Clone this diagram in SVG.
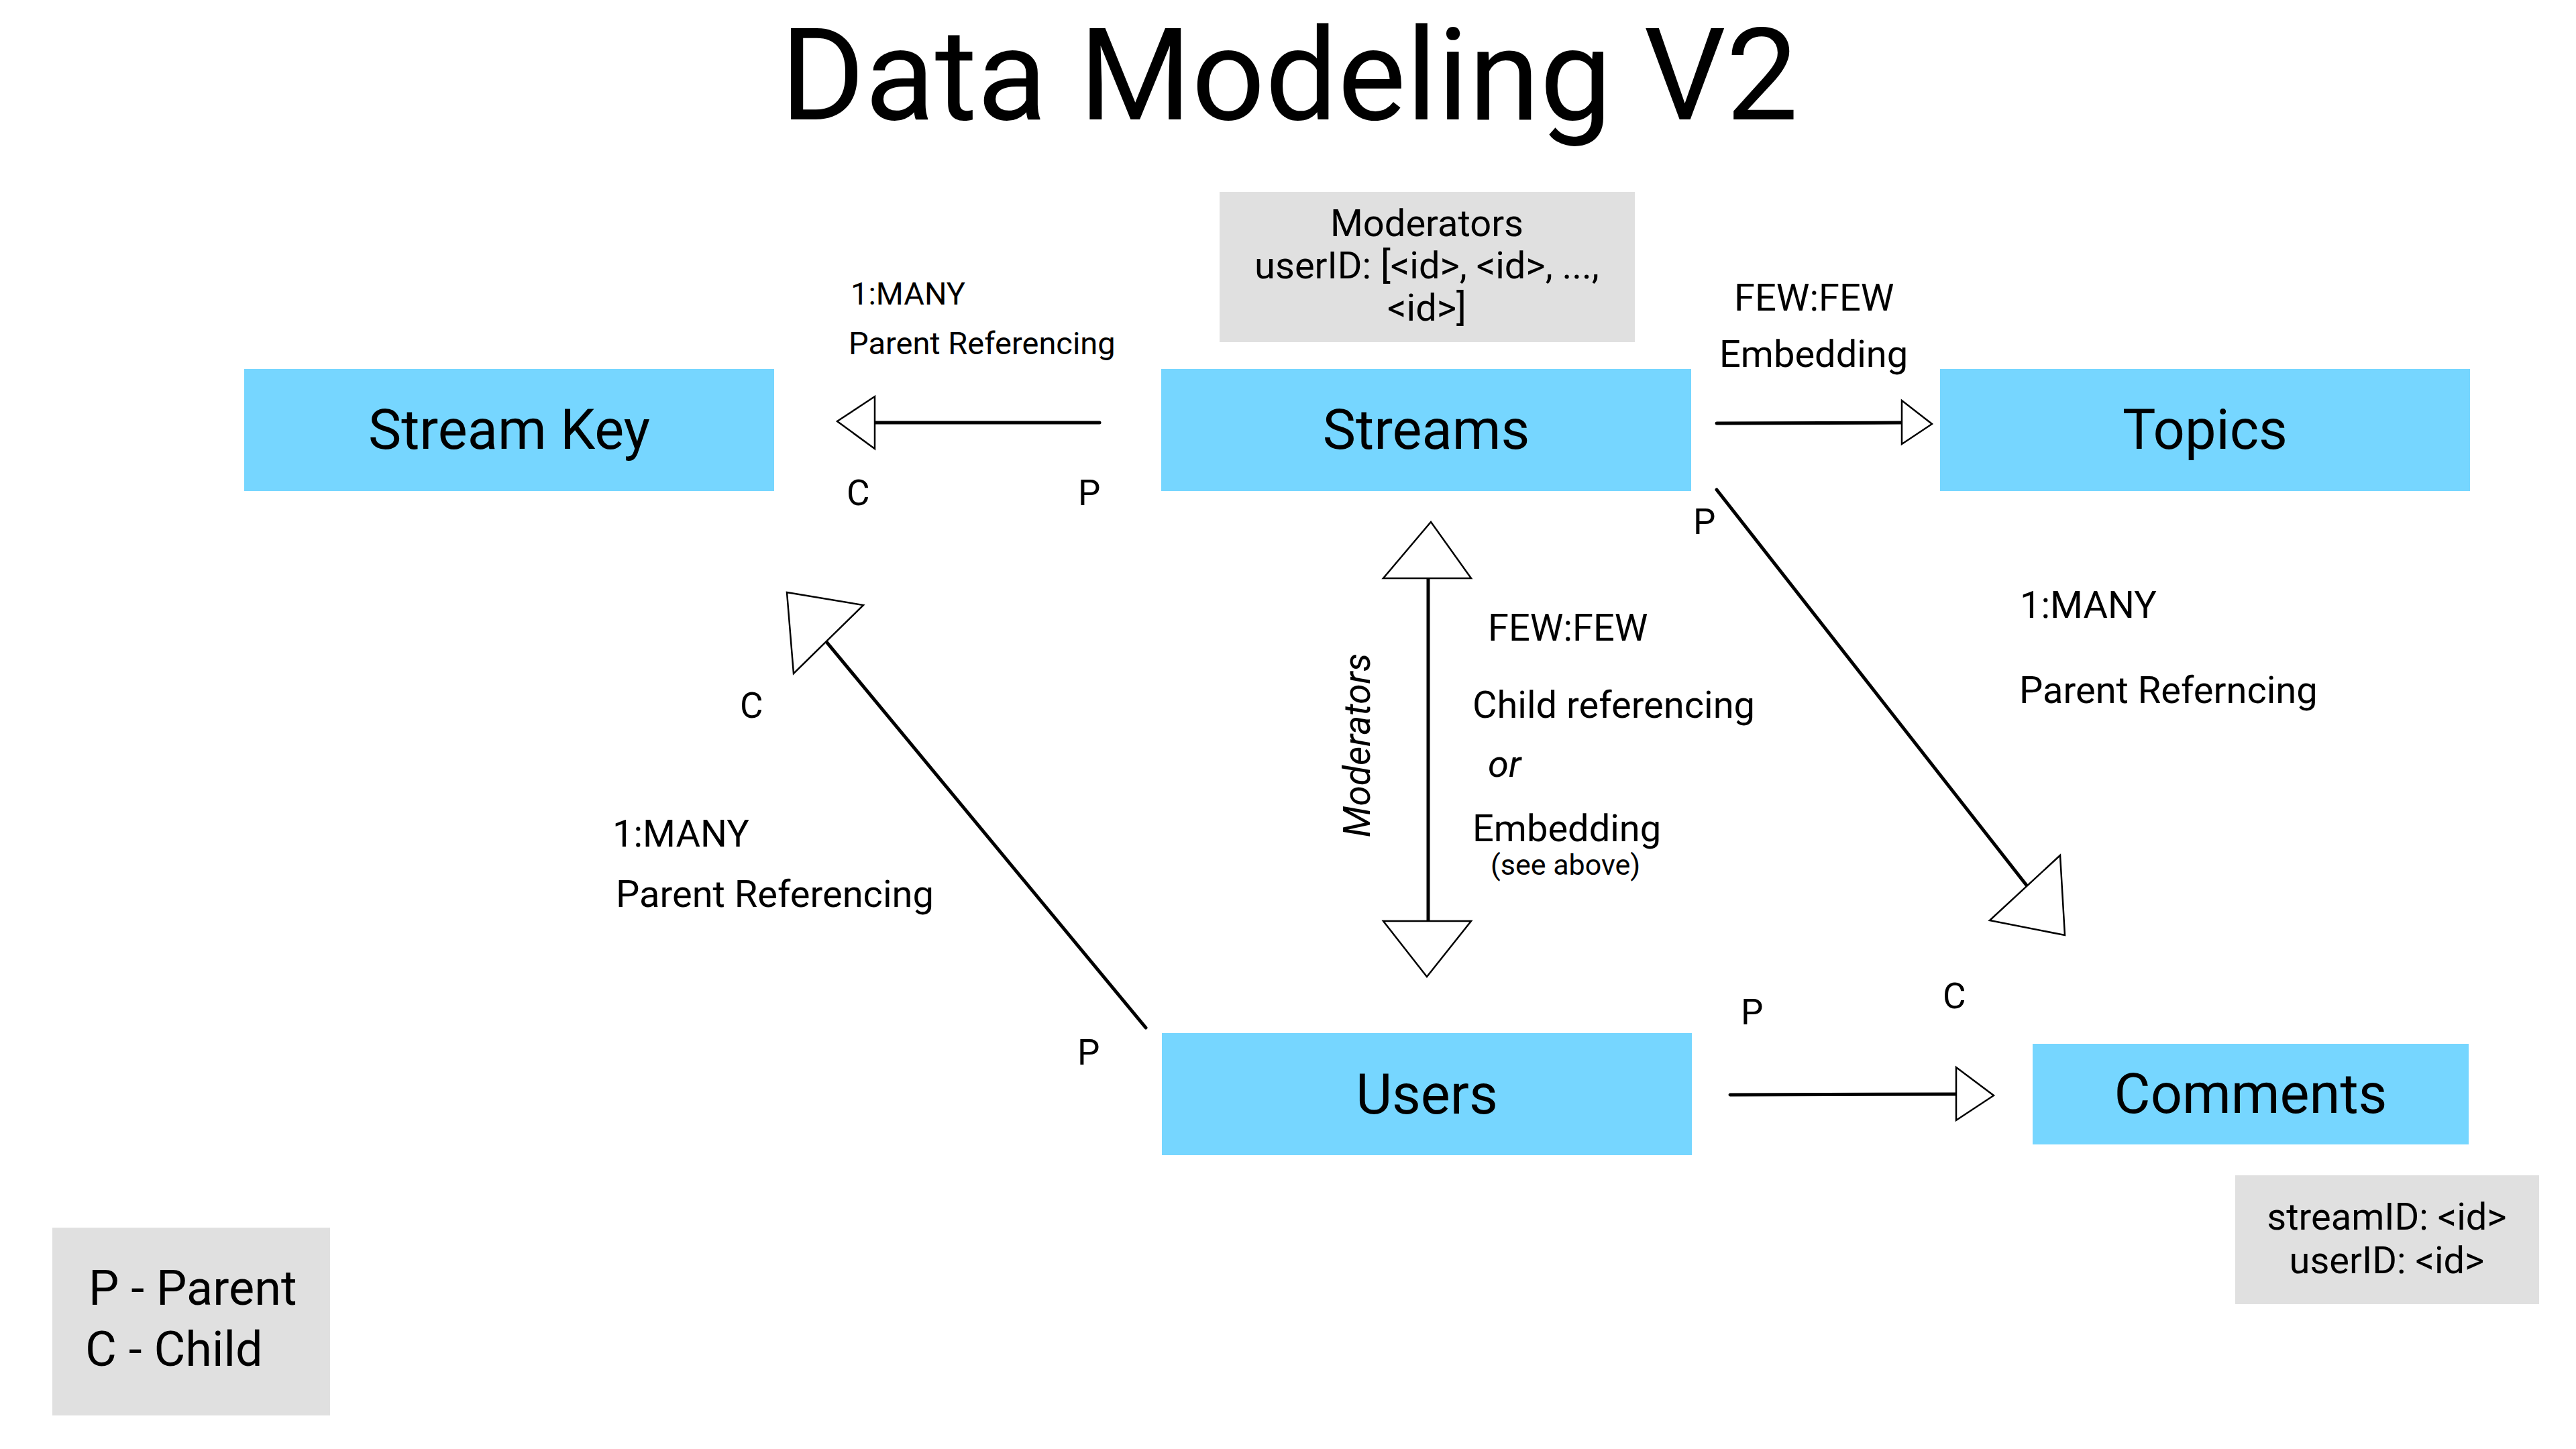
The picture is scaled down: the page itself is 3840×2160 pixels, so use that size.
<svg xmlns="http://www.w3.org/2000/svg" width="3840" height="2160" viewBox="0 0 3840 2160">
<style>
text{font-family:Roboto,"Liberation Sans",sans-serif;fill:#000}
.node{fill:#76d6ff}
.note{fill:#e0e0e0}
.lbl{font-size:83px;text-anchor:middle}
.t55{font-size:56px}
.t47{font-size:47px}
.cp{font-size:53px}
.line{stroke:#000;stroke-width:5;stroke-linecap:round;fill:none}
.head{fill:#fff;stroke:#000;stroke-width:2.5;stroke-linejoin:miter}
</style>
<rect width="3840" height="2160" fill="#fff"/>
<text x="1922" y="178" style="font-size:192px;text-anchor:middle">Data Modeling V2</text>

<g id="moderators-note">
<rect class="note" x="1818" y="286" width="619" height="224"/>
<text x="2127" y="352" class="t55" text-anchor="middle">Moderators</text>
<text x="2127" y="415" class="t55" text-anchor="middle">userID: [&lt;id&gt;, &lt;id&gt;, ...,</text>
<text x="2127" y="478" class="t55" text-anchor="middle">&lt;id&gt;]</text>
</g>

<g id="stream-key"><rect class="node" x="364" y="550" width="790" height="182"/><text class="lbl" x="759" y="669">Stream Key</text></g>
<g id="streams"><rect class="node" x="1731" y="550" width="790" height="182"/><text class="lbl" x="2126" y="669">Streams</text></g>
<g id="topics"><rect class="node" x="2892" y="550" width="790" height="182"/><text class="lbl" x="3287" y="669">Topics</text></g>
<g id="users"><rect class="node" x="1732" y="1540" width="790" height="182"/><text class="lbl" x="2127" y="1660">Users</text></g>
<g id="comments"><rect class="node" x="3030" y="1556" width="650" height="150"/><text class="lbl" x="3355" y="1659">Comments</text></g>

<g id="comments-note">
<rect class="note" x="3332" y="1752" width="453" height="192"/>
<text x="3558" y="1833" class="t55" text-anchor="middle">streamID: &lt;id&gt;</text>
<text x="3558" y="1898" class="t55" text-anchor="middle">userID: &lt;id&gt;</text>
</g>

<g id="legend">
<rect class="note" x="78" y="1830" width="414" height="280"/>
<text x="132" y="1945" style="font-size:72px">P - Parent</text>
<text x="127" y="2036" style="font-size:72px">C - Child</text>
</g>

<g id="connectors">
<!-- Streams -> Stream Key -->
<line class="line" x1="1639" y1="630" x2="1304" y2="630"/>
<polygon class="head" points="1304,591 1304,669 1248,628"/>
<!-- Streams -> Topics -->
<line class="line" x1="2559" y1="631" x2="2835" y2="630"/>
<polygon class="head" points="2835,597 2835,662 2880,632"/>
<!-- Streams <-> Users -->
<line class="line" x1="2129" y1="862" x2="2129" y2="1373"/>
<polygon class="head" points="2062,862 2193,862 2133,778"/>
<polygon class="head" points="2062,1373 2193,1373 2127,1456"/>
<!-- Streams -> Comments -->
<line class="line" x1="2559" y1="730" x2="3029" y2="1330"/>
<polygon class="head" points="3071,1275 2966,1372 3078,1394"/>
<!-- Users -> Stream Key -->
<line class="line" x1="1708" y1="1532" x2="1223" y2="946"/>
<polygon class="head" points="1173,883 1287,902 1183,1004"/>
<!-- Users -> Comments -->
<line class="line" x1="2579" y1="1632" x2="2916" y2="1631"/>
<polygon class="head" points="2916,1591 2916,1670 2972,1633"/>
</g>

<g id="labels">
<text x="1268" y="454" class="t47">1:MANY</text>
<text x="1265" y="528" class="t47">Parent Referencing</text>
<text x="1262" y="753" class="cp">C</text>
<text x="1607" y="753" class="cp">P</text>

<text x="2585" y="463" class="t55">FEW:FEW</text>
<text x="2563" y="547" class="t55">Embedding</text>

<text x="2524" y="796" class="cp">P</text>
<text x="3011" y="921" class="t55">1:MANY</text>
<text x="3010" y="1048" class="t55">Parent Referncing</text>

<text transform="translate(2042,1111) rotate(-90)" style="font-size:55px;font-style:italic;text-anchor:middle">Moderators</text>
<text x="2218" y="955" class="t55">FEW:FEW</text>
<text x="2195" y="1070" class="t55">Child referencing</text>
<text x="2218" y="1158" class="t55" font-style="italic">or</text>
<text x="2195" y="1254" class="t55">Embedding</text>
<text x="2222" y="1304" style="font-size:43px">(see above)</text>

<text x="1103" y="1070" class="cp">C</text>
<text x="913" y="1262" class="t55">1:MANY</text>
<text x="918" y="1352" class="t55">Parent Referencing</text>
<text x="1606" y="1587" class="cp">P</text>

<text x="2595" y="1527" class="cp">P</text>
<text x="2896" y="1503" class="cp">C</text>
</g>
</svg>
